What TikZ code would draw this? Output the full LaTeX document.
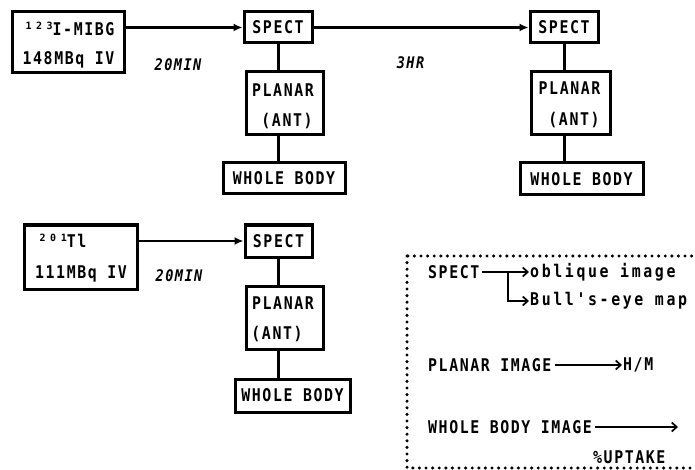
\documentclass[tikz,border=0pt]{standalone}
\usepackage{fontspec}
\usetikzlibrary{arrows.meta}
\newfontfamily\lbl{DejaVu Sans Mono}[UprightFont=* Bold, ItalicFont=* Bold Oblique, FakeStretch=0.85, LetterSpace=9]
\newfontfamily\lblw{DejaVu Sans Mono}[UprightFont=* Bold, FakeStretch=0.85, LetterSpace=15]
\newfontfamily\lbls{DejaVu Sans Mono}[UprightFont=* Bold, LetterSpace=45]
\newcommand{\supnum}[1]{\raisebox{6pt}{\lbls\fontsize{10}{10}\selectfont #1}}
\tikzset{
  box/.style={draw, line width=3pt, inner sep=0pt},
  txt/.style={inner sep=0pt, font=\lbl\fontsize{17.5}{20}\selectfont},
  lower/.style={inner sep=0pt, font=\lblw\fontsize{17.5}{20}\selectfont},
  tlabel/.style={inner sep=0pt, font=\lbl\itshape\fontsize{16}{18}\selectfont},
  flow/.style={line width=2.6pt, -{Latex[length=9pt,width=8pt]}},
  link/.style={line width=3pt},
  leg/.style={line width=1.7pt, -{Straight Barb[length=5pt,width=9pt,line width=1.7pt]}},
}
\begin{document}
\begin{tikzpicture}[x=1pt,y=-1pt]
\path[use as bounding box] (0,0) rectangle (695,470);
\clip (0,0) rectangle (695,470);
% --- top chain ---
\node[box, minimum width=112pt, minimum height=61pt] (inj1) at (68,42.5) {};
\node[txt] (inj1a) at (70,28.5) {\supnum{123}I-MIBG};
\node[txt] (inj1b) at (68.5,60) {148MBq IV};
\node[box, minimum width=68pt, minimum height=31pt] (s1) at (278,27.5) {};
\node[txt] (s1t) at (278,27.5) {SPECT};
\node[box, minimum width=77pt, minimum height=63pt] (p1) at (284.5,103.5) {};
\node[txt] (p1a) at (283,90) {PLANAR};
\node[txt] (p1b) at (287,121) {(ANT)};
\node[box, minimum width=122pt, minimum height=31pt] (w1) at (284,178) {};
\node[txt] (w1t) at (284,178) {WHOLE BODY};
\node[box, minimum width=68pt, minimum height=31pt] (s2) at (564,27.5) {};
\node[txt] (s2t) at (564,27.5) {SPECT};
\node[box, minimum width=79pt, minimum height=63pt] (p2) at (570.5,103.5) {};
\node[txt] (p2a) at (569.5,88.5) {PLANAR};
\node[txt] (p2b) at (574,120) {(ANT)};
\node[box, minimum width=123pt, minimum height=32pt] (w2) at (581.5,179) {};
\node[txt] (w2t) at (581.5,179) {WHOLE BODY};
\node[tlabel] (t1) at (178,65) {20MIN};
\node[tlabel] (t2) at (410.5,62.5) {3HR};
\draw[flow] (s1.west -| inj1.east) -- (s1.west);
\draw[flow] (s1.east) -- (s2.west);
\draw[link] (s1.south) -- (s1.south |- p1.north);
\draw[link] (s1.south |- p1.south) -- (s1.south |- w1.north);
\draw[link] (s2.south) -- (s2.south |- p2.north);
\draw[link] (s2.south |- p2.south) -- (s2.south |- w2.north);
% --- bottom chain ---
\node[box, minimum width=113pt, minimum height=64pt] (inj2) at (80.5,257) {};
\node[txt] (inj2a) at (63,241) {\supnum{201}Tl};
\node[txt] (inj2b) at (81,274) {111MBq IV};
\node[box, minimum width=67pt, minimum height=32pt] (s3) at (278.5,241) {};
\node[txt] (s3t) at (278.5,241) {SPECT};
\node[box, minimum width=77pt, minimum height=63pt] (p3) at (284.5,317.5) {};
\node[txt] (p3a) at (283,303.5) {PLANAR};
\node[txt] (p3b) at (277,334.5) {(ANT)};
\node[box, minimum width=115pt, minimum height=33pt] (w3) at (292.5,395.5) {};
\node[txt] (w3t) at (292.5,395.5) {WHOLE BODY};
\node[tlabel] (t3) at (179,276) {20MIN};
\draw[flow] (s3.west -| inj2.east) -- (s3.west);
\draw[link] (s3.south -| 278,0) -- (p3.north -| 278,0);
\draw[link] (p3.south -| 278,0) -- (w3.north -| 278,0);
% --- legend ---
\draw[line width=3.4pt, line cap=round, dash pattern=on 0pt off 6.6pt] (407,256) rectangle (730,468);
\node[txt, anchor=west] (ls) at (428,272) {SPECT};
\node[lower, anchor=west] (lo) at (530,272) {oblique image};
\node[lower, anchor=west] (lb) at (530,301) {Bull's-eye map};
\coordinate (br) at (508,272);
\draw[leg] ([xshift=3pt]ls.east) -- ([xshift=-1pt]lo.west);
\draw[leg] (br) |- ([xshift=-1pt]lb.west);
\node[txt, anchor=west] (lp) at (428,365) {PLANAR IMAGE};
\node[txt, anchor=west] (lh) at (623,365) {H/M};
\draw[leg] ([xshift=3pt]lp.east) -- ([xshift=-1pt]lh.west);
\node[txt, anchor=west] (lw) at (428,427) {WHOLE BODY IMAGE};
\coordinate (lwe) at (678,427);
\draw[leg] ([xshift=3pt]lw.east) -- (lwe);
\node[txt, anchor=west] (lu) at (593,457) {\%UPTAKE};
\end{tikzpicture}
\end{document}
